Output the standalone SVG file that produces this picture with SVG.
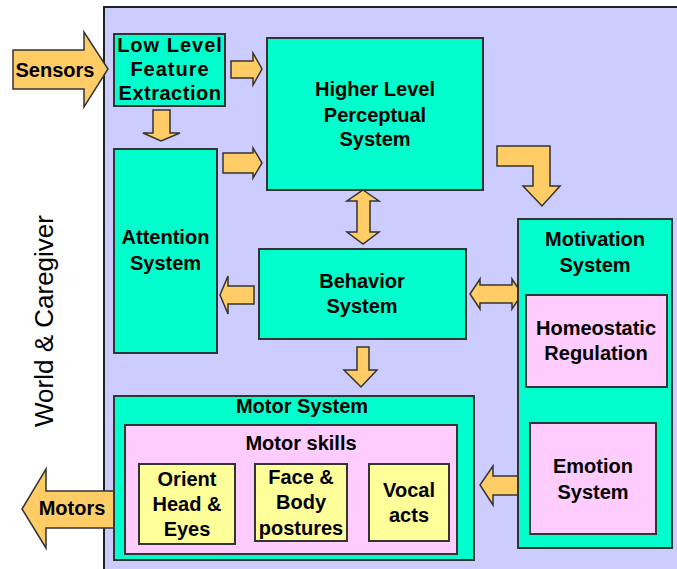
<svg xmlns="http://www.w3.org/2000/svg" width="677" height="569" viewBox="0 0 677 569">
<style>
.bg{fill:#ccccff;stroke:#222;stroke-width:2}
.aq{fill:#00ffcc;stroke:#333;stroke-width:2}
.pk{fill:#ffccff;stroke:#333;stroke-width:2}
.yl{fill:#ffff99;stroke:#333;stroke-width:2}
.ar{fill:#ffcc66;stroke:#333;stroke-width:1.5;stroke-linejoin:miter}
text{font-family:"Liberation Sans",Arial,sans-serif;font-weight:bold;font-size:20px;fill:#000;text-anchor:middle}
.reg{font-weight:normal;font-size:26px}
</style>
<rect width="677" height="569" fill="#fff"/>
<rect class="bg" x="104" y="7" width="590" height="580"/>
<text class="reg" transform="translate(53,321) rotate(-90)">World &amp; Caregiver</text>

<g id="connectors">
<polygon class="ar" points="13,50 84,50 84,32 108,69 84,107 84,89 13,89"/>
<polygon class="ar" points="231,61 253,61 253,53 262,69 253,85 253,78 231,78"/>
<polygon class="ar" points="223,153 253,153 253,148 262,163 253,178 253,173 223,173"/>
<polygon class="ar" points="153,110 170,110 170,133 180,133 161,141 143,133 153,133"/>
<polygon class="ar" points="497,146 550,146 550,186 560,186 542,206 523,186 533,186 533,166 497,166"/>
<polygon class="ar" points="363,190 379,201 370,201 370,232 379,232 363,244 347,232 357,232 357,201 347,201"/>
<polygon class="ar" points="254,286 254,304 228,304 228,314 220,295 228,276 228,286"/>
<polygon class="ar" points="470,294 480,279 480,285 512,285 512,279 522,294 512,309 512,303 480,303 480,309"/>
<polygon class="ar" points="357,347 369,347 369,370 377,370 361,387 344,370 357,370"/>
<polygon class="ar" points="518,476 518,495 493,495 493,505 480,485 493,466 493,476"/>
<polygon class="ar" points="117,491 117,528 46,528 46,548 22,509 46,469 46,491"/>
<text x="55" y="77">Sensors</text>
<text x="72" y="515">Motors</text>
</g>

<g id="lowlevel">
<rect class="aq" x="114" y="34" width="111" height="72"/>
<text x="170" y="52" letter-spacing="1">Low Level</text>
<text x="170" y="76" letter-spacing="1">Feature</text>
<text x="170" y="100" letter-spacing="0.5">Extraction</text>
</g>

<g id="higher">
<rect class="aq" x="267" y="38" width="216" height="152"/>
<text x="375" y="96">Higher Level</text>
<text x="375" y="122">Perceptual</text>
<text x="375" y="146">System</text>
</g>

<g id="attention">
<rect class="aq" x="114" y="149" width="103" height="204"/>
<text x="165.5" y="244">Attention</text>
<text x="165.5" y="270">System</text>
</g>

<g id="behavior">
<rect class="aq" x="259" y="249" width="207" height="90"/>
<text x="362" y="288">Behavior</text>
<text x="362" y="313">System</text>
</g>

<g id="motivation">
<rect class="aq" x="518" y="219" width="154" height="329"/>
<text x="595" y="246">Motivation</text>
<text x="595" y="272">System</text>
</g>

<g id="homeostatic">
<rect class="pk" x="526" y="295" width="141" height="92"/>
<text x="596" y="335">Homeostatic</text>
<text x="596" y="360">Regulation</text>
</g>

<g id="emotion">
<rect class="pk" x="530" y="423" width="126" height="111"/>
<text x="593" y="473">Emotion</text>
<text x="593" y="499">System</text>
</g>

<g id="motorsystem">
<rect class="aq" x="114" y="396" width="360" height="164"/>
<text x="302" y="413">Motor System</text>
</g>

<g id="motorskills">
<rect class="pk" x="125" y="425" width="332" height="129"/>
<text x="301" y="450">Motor skills</text>
</g>

<g id="orient">
<rect class="yl" x="139" y="464" width="96" height="80"/>
<text x="187" y="486">Orient</text>
<text x="187" y="511">Head &amp;</text>
<text x="187" y="536">Eyes</text>
</g>

<g id="face">
<rect class="yl" x="255" y="464" width="92" height="77"/>
<text x="301" y="484">Face &amp;</text>
<text x="301" y="509">Body</text>
<text x="301" y="535">postures</text>
</g>

<g id="vocal">
<rect class="yl" x="369" y="464" width="80" height="77"/>
<text x="409" y="497">Vocal</text>
<text x="409" y="522">acts</text>
</g>
</svg>
